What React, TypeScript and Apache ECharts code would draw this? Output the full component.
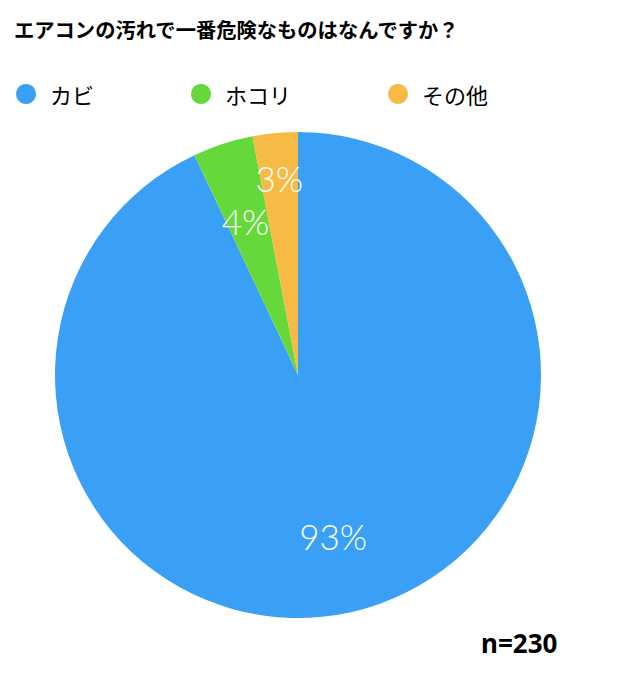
import {useEffect, useRef} from 'react';
import * as echarts from 'echarts';

const categories = ['カビ', 'ホコリ', 'その他'];
const shares = [93, 4, 3];
const colors = ['#3aa0f5', '#66d93a', '#f7bb45'];
const sampleSize = 230;
const titleText = 'エアコンの汚れで一番危険なものはなんですか？';

// nudges the inside labels to where the reference has them
const labelShift = [[8, 39], [-14, -36], [-7, -73]];

export default function App() {
    const ref = useRef<HTMLDivElement | null>(null);

    useEffect(() => {
        document.body.style.margin = '0';
        if (!ref.current) return;
        const chart = echarts.init(ref.current, undefined, {renderer: 'svg'});
        chart.setOption({
            animation: false,
            backgroundColor: '#fff',
            title: [
                {
                    text: titleText,
                    left: 14, top: 19, padding: 0,
                    textStyle: {fontSize: 20.3, fontWeight: 'bold', color: '#000', fontFamily: 'Noto Sans CJK JP'}
                },
                {
                    text: 'n=' + sampleSize,
                    left: 481, top: 630, padding: 0,
                    textStyle: {fontSize: 26, fontWeight: 'bold', color: '#000', fontFamily: 'Noto Sans, Noto Sans CJK JP'}
                }
            ],
            legend: {
                left: 16, top: 83, padding: 0,
                icon: 'circle',
                itemWidth: 20, itemHeight: 20, itemGap: 97,
                data: categories,
                textStyle: {fontSize: 22, color: '#000', padding: [0, 0, 0, 9], fontFamily: 'Noto Sans CJK JP'}
            },
            series: [{
                type: 'pie',
                center: [298, 375],
                radius: 243,
                startAngle: 90,
                clockwise: true,
                percentPrecision: 0,
                itemStyle: {borderWidth: 0},
                label: {
                    show: true,
                    position: 'inside',
                    formatter: '{c}%',
                    color: '#fff',
                    fontSize: 35,
                    fontWeight: 300,
                    fontFamily: 'Lato, Noto Sans, sans-serif'
                },
                labelLayout: (p: any) => ({dx: labelShift[p.dataIndex][0], dy: labelShift[p.dataIndex][1]}),
                emphasis: {disabled: true},
                data: categories.map((name, i) => ({name, value: shares[i], itemStyle: {color: colors[i]}}))
            }]
        });
        return () => chart.dispose();
    }, []);

    return <div ref={ref} style={{width: 620, height: 675}}/>;
}
